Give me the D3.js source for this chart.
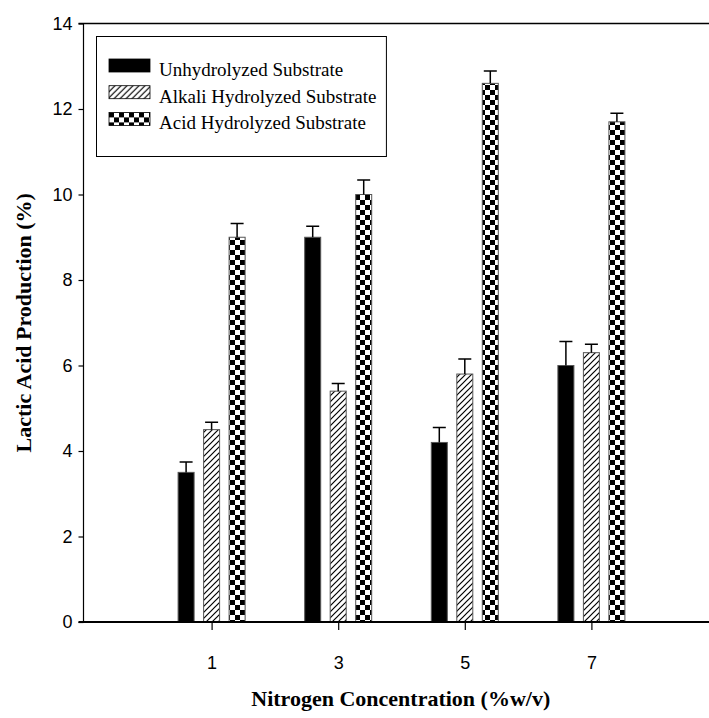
<!DOCTYPE html>
<html>
<head>
<meta charset="utf-8">
<script src="https://cdn.jsdelivr.net/npm/d3@7"></script>
<style>
  body { margin: 0; background: #fff; }
</style>
</head>
<body>
<svg width="709" height="718"></svg>
<script>
const concentrations = [1, 3, 5, 7];
const seriesNames = ['Unhydrolyzed Substrate', 'Alkali Hydrolyzed Substrate', 'Acid Hydrolyzed Substrate'];
const unhydrolyzed = [3.5, 9.0, 4.2, 6.0];
const unhydrolyzedErr = [0.24, 0.26, 0.35, 0.56];
const alkali = [4.5, 5.4, 5.8, 6.3];
const alkaliErr = [0.17, 0.18, 0.35, 0.2];
const acid = [9.0, 10.0, 12.6, 11.7];
const acidErr = [0.32, 0.34, 0.29, 0.2];
const yTicks = [0, 2, 4, 6, 8, 10, 12, 14];

const svg = d3.select('svg');
const width = +svg.attr('width');

const plotLeft = 83.5, plotTop = 23.5, plotBottom = 622;
const serif = "'Liberation Serif', 'Times New Roman', serif";
const sans = "'Liberation Sans', Arial, sans-serif";

const xScale = d3.scaleLinear().domain([-1, 9]).range([85, 718]);
const yScale = d3.scaleLinear().domain([0, 14]).range([plotBottom, plotTop]);

// fill patterns
const defs = svg.append('defs');
const hatch = defs.append('pattern')
    .attr('id', 'hatch')
    .attr('patternUnits', 'userSpaceOnUse')
    .attr('width', 6).attr('height', 6);
hatch.append('rect').attr('width', 6).attr('height', 6).attr('fill', '#fff');
hatch.append('path')
    .attr('d', 'M-1,7 L7,-1 M-2,2 L2,-2 M4,8 L8,4')
    .attr('stroke', '#000').attr('stroke-width', 1.2);

const checker = defs.append('pattern')
    .attr('id', 'checker')
    .attr('patternUnits', 'userSpaceOnUse')
    .attr('width', 10).attr('height', 10);
checker.append('rect').attr('width', 10).attr('height', 10).attr('fill', '#fff');
checker.append('rect').attr('width', 5).attr('height', 5).attr('fill', '#000');
checker.append('rect').attr('x', 5).attr('y', 5).attr('width', 5).attr('height', 5).attr('fill', '#000');

const series = [
    { name: seriesNames[0], values: unhydrolyzed, errs: unhydrolyzedErr, fill: '#000', offset: -25.5 },
    { name: seriesNames[1], values: alkali, errs: alkaliErr, fill: 'url(#hatch)', offset: 0 },
    { name: seriesNames[2], values: acid, errs: acidErr, fill: 'url(#checker)', offset: 25.5 }
];
const barWidth = 16;

// bars
series.forEach(s => {
    const rows = concentrations.map((c, i) => ({ c, v: s.values[i], e: s.errs[i] }));
    const g = svg.append('g');
    g.selectAll('rect')
        .data(rows)
        .enter()
            .append('rect')
            .attr('x', d => xScale(d.c) + s.offset - barWidth / 2)
            .attr('y', d => yScale(d.v))
            .attr('width', barWidth)
            .attr('height', d => plotBottom - yScale(d.v))
            .attr('fill', s.fill)
            .attr('stroke', '#555')
            .attr('stroke-width', 1);
    // upper error bars
    g.selectAll('path.err')
        .data(rows)
        .enter()
            .append('path')
            .classed('err', true)
            .attr('d', d => {
                const cx = xScale(d.c) + s.offset;
                const y1 = yScale(d.v), y2 = yScale(d.v + d.e);
                return `M${cx},${y1}V${y2}M${cx - 6.5},${y2}H${cx + 6.5}`;
            })
            .attr('stroke', '#000')
            .attr('stroke-width', 1.5)
            .attr('fill', 'none');
});

// axes
const yAxisG = svg.append('g')
    .attr('transform', `translate(${plotLeft},0)`)
    .call(d3.axisLeft(yScale).tickValues(yTicks).tickSize(5).tickPadding(6))
    .attr('font-family', sans)
    .attr('font-size', 18);
yAxisG.select('.domain').remove();
yAxisG.selectAll('.tick line').attr('stroke-width', 1.2);

const xAxisG = svg.append('g')
    .attr('transform', `translate(0,${plotBottom})`)
    .call(d3.axisBottom(xScale).tickValues(concentrations).tickSize(8).tickPadding(26))
    .attr('font-family', sans)
    .attr('font-size', 18);
xAxisG.select('.domain').remove();
xAxisG.selectAll('.tick line').attr('stroke-width', 1.2);

svg.append('line')
    .attr('x1', plotLeft).attr('x2', plotLeft)
    .attr('y1', plotTop).attr('y2', plotBottom)
    .attr('stroke', '#000').attr('stroke-width', 1.2);
svg.append('line')
    .attr('x1', plotLeft - 5).attr('x2', width)
    .attr('y1', plotBottom).attr('y2', plotBottom)
    .attr('stroke', '#000').attr('stroke-width', 2);
svg.append('line')
    .attr('x1', plotLeft - 5).attr('x2', width)
    .attr('y1', plotTop).attr('y2', plotTop)
    .attr('stroke', '#000').attr('stroke-width', 1.6);

// titles, centred on their axes
svg.append('text')
    .text('Nitrogen Concentration (%w/v)')
    .attr('x', (plotLeft + 718) / 2).attr('y', 706)
    .attr('text-anchor', 'middle')
    .attr('font-family', serif)
    .attr('font-weight', 'bold')
    .attr('font-size', 22);
svg.append('text')
    .text('Lactic Acid Production (%)')
    .attr('transform', `translate(31,${(plotTop + plotBottom) / 2}) rotate(-90)`)
    .attr('text-anchor', 'middle')
    .attr('font-family', serif)
    .attr('font-weight', 'bold')
    .attr('font-size', 22);

// legend
const legend = svg.append('g');
const legendBox = legend.append('rect')
    .attr('x', 96.5).attr('y', 36.5)
    .attr('height', 120)
    .attr('fill', '#fff').attr('stroke', '#000').attr('stroke-width', 1);
const items = legend.selectAll('g.item')
    .data(series)
    .enter()
        .append('g')
        .classed('item', true)
        .attr('transform', (d, i) => `translate(109,${59 + i * 26.7})`);
items.append('rect')
    .attr('width', 41).attr('height', 13)
    .attr('fill', d => d.fill)
    .attr('stroke', '#000').attr('stroke-width', 0.8);
const labels = items.append('text')
    .text(d => d.name)
    .attr('x', 50).attr('y', 17)
    .attr('font-family', serif)
    .attr('font-size', 19);
const maxLen = d3.max(labels.nodes(), n => n.getComputedTextLength());
legendBox.attr('width', 109 + 50 + maxLen + 10 - 96.5);
</script>
</body>
</html>
